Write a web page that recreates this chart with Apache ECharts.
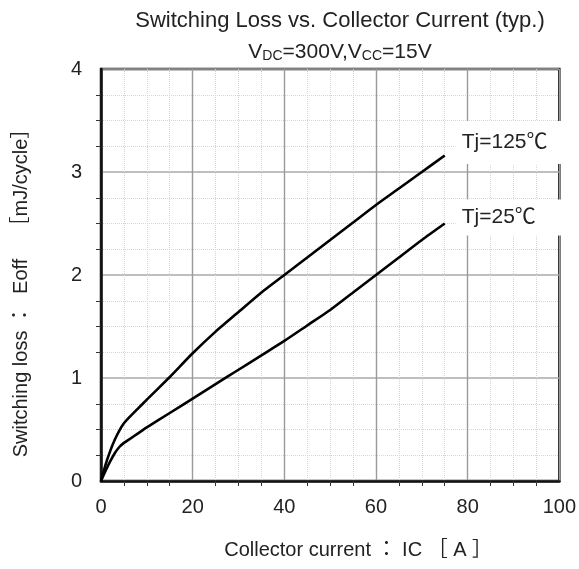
<!DOCTYPE html>
<html>
<head>
<meta charset="utf-8">
<script src="https://cdn.jsdelivr.net/npm/echarts@6/dist/echarts.min.js"></script>
<style>
  html, body { margin: 0; padding: 0; background: #fff; }
  #chart { width: 579px; height: 569px; }
</style>
</head>
<body>
<div id="chart"></div>
<script>
// Turn-off switching loss versus collector current, two junction temperatures
const currentA = [0, 1, 2, 3, 4, 5, 6, 8, 10, 15, 20, 25, 30, 35, 40, 45, 50, 55, 60, 65, 70, 75];
const eoffTj125 = [0, 0.16, 0.29, 0.40, 0.49, 0.56, 0.61, 0.70, 0.79, 1.01, 1.24, 1.45, 1.64, 1.83, 2.00, 2.17, 2.34, 2.51, 2.68, 2.84, 3.00, 3.16];
const eoffTj25 = [0, 0.10, 0.19, 0.27, 0.33, 0.37, 0.40, 0.46, 0.52, 0.66, 0.80, 0.94, 1.08, 1.22, 1.36, 1.51, 1.66, 1.83, 2.00, 2.17, 2.34, 2.50];
const seriesNames = ['Tj=125℃', 'Tj=25℃'];
const xTicks = [0, 20, 40, 60, 80, 100];
const yTicks = [0, 1, 2, 3, 4];

const FONT = '"Liberation Sans", Arial, "Noto Sans CJK JP", sans-serif';
const pairs = (xs, ys) => xs.map((x, i) => [x, ys[i]]);

const chart = echarts.init(document.getElementById('chart'), null, { renderer: 'canvas' });

// curve tag with a white box that hides the grid behind it
const endLabel = (text, dy, pad) => ({
  show: true,
  formatter: text,
  color: '#222',
  fontFamily: FONT,
  fontSize: 21,
  backgroundColor: '#fff',
  padding: pad,
  offset: [3, dy],
  align: 'left',
  verticalAlign: 'middle'
});

chart.setOption({
  animation: false,
  backgroundColor: '#fff',
  title: [
    {
      text: 'Switching Loss vs. Collector Current (typ.)',
      left: 335, top: 5, textAlign: 'center',
      textStyle: { fontFamily: FONT, fontSize: 22, fontWeight: 'normal', color: '#222' }
    },
    {
      text: 'V{s|DC}=300V,V{s|CC}=15V',
      left: 335, top: 37, textAlign: 'center',
      textStyle: {
        fontFamily: FONT, fontSize: 21, fontWeight: 'normal', color: '#222',
        rich: {
          s: { fontFamily: FONT, fontSize: 14, color: '#222', verticalAlign: 'bottom', padding: [6, 0, 0, 0] }
        }
      }
    }
  ],
  grid: {
    left: 101, top: 69, right: 19, bottom: 88,
    show: true, borderColor: '#111', borderWidth: 2.5, backgroundColor: 'transparent'
  },
  xAxis: {
    type: 'value', min: 0, max: 100, interval: 20,
    name: 'Collector current ： IC ［ A ］',
    nameLocation: 'middle', nameGap: 59,
    nameTextStyle: { fontFamily: FONT, fontSize: 20, color: '#222', padding: [0, 0, 0, 56] },
    axisLine: { show: true, lineStyle: { color: '#111', width: 2.5 } },
    axisTick: { show: false },
    minorTick: { show: true, splitNumber: 4, length: 5, lineStyle: { color: '#333', width: 1 } },
    axisLabel: {
      fontFamily: FONT, fontSize: 20, color: '#222', margin: 16,
      formatter: v => (xTicks.includes(v) ? String(v) : '')
    },
    splitLine: { show: true, lineStyle: { color: '#9a9a9a', width: 1.4 } },
    minorSplitLine: { show: true, lineStyle: { color: '#d6d6d6', width: 1, type: 'dotted' } }
  },
  yAxis: {
    type: 'value', min: 0, max: 4, interval: 1,
    name: 'Switching loss ：\u00a0\u00a0Eoff\u00a0\u00a0\u00a0\u00a0［mJ/cycle］',
    nameLocation: 'middle', nameGap: 70, nameRotate: 90,
    nameTextStyle: { fontFamily: FONT, fontSize: 20, color: '#222', padding: [0, 26, 0, 0] },
    axisLine: { show: true, lineStyle: { color: '#111', width: 2.5 } },
    axisTick: { show: false },
    minorTick: { show: true, splitNumber: 4, length: 5, lineStyle: { color: '#333', width: 1 } },
    axisLabel: {
      fontFamily: FONT, fontSize: 20, color: '#222', margin: 19,
      formatter: v => (yTicks.includes(v) ? String(v) : '')
    },
    splitLine: { show: true, lineStyle: { color: '#a8a8a8', width: 1.6 } },
    minorSplitLine: { show: true, lineStyle: { color: '#d6d6d6', width: 1, type: 'dotted' } }
  },
  series: [
    {
      name: seriesNames[0], type: 'line', data: pairs(currentA, eoffTj125),
      smooth: 0.2, showSymbol: false, symbol: 'none',
      lineStyle: { color: '#000', width: 2.6 },
      endLabel: endLabel(seriesNames[0], -13, [11, 14, 11, 6]),
      z: 5
    },
    {
      name: seriesNames[1], type: 'line', data: pairs(currentA, eoffTj25),
      smooth: 0.2, showSymbol: false, symbol: 'none',
      lineStyle: { color: '#000', width: 2.6 },
      endLabel: endLabel(seriesNames[1], -6, [7, 28, 8, 6]),
      z: 5
    }
  ]
});
</script>
</body>
</html>
